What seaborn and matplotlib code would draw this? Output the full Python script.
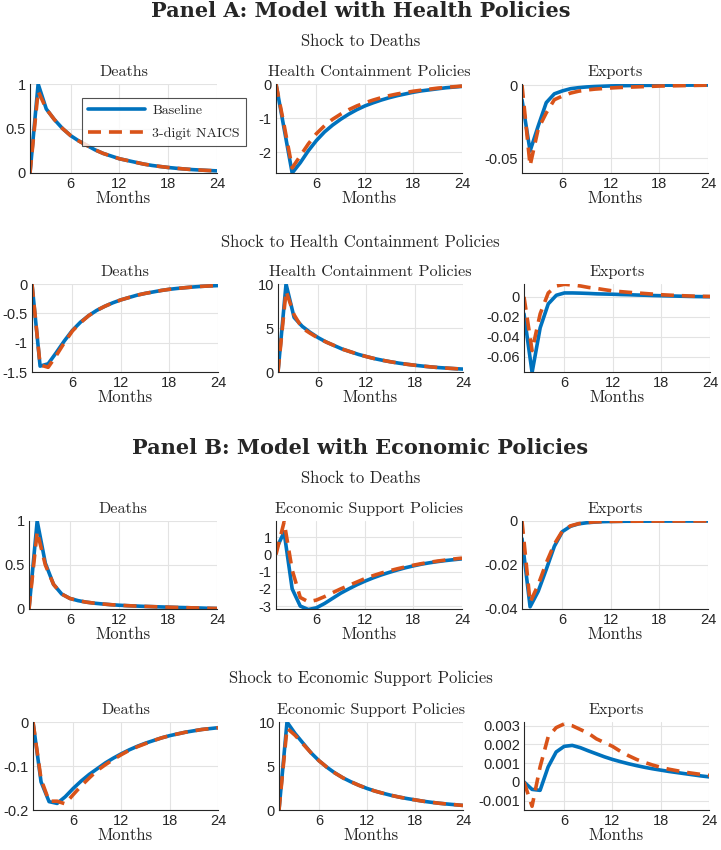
import matplotlib
matplotlib.use("Agg")
import matplotlib.pyplot as plt
import seaborn as sns

sns.set_style("white")
plt.rcParams["axes.unicode_minus"] = False

# Data: impulse responses, months 1..24
months = list(range(1, 25))

# Panel A, shock to deaths
a1_deaths_base = [0, 1.0, 0.72, 0.6, 0.5, 0.42, 0.36, 0.31, 0.26, 0.22, 0.19, 0.16,
                  0.14, 0.12, 0.10, 0.085, 0.073, 0.062, 0.053, 0.045, 0.038, 0.033, 0.028, 0.024]
a1_deaths_naics = [0, 0.92, 0.72, 0.6, 0.5, 0.42, 0.36, 0.31, 0.26, 0.22, 0.19, 0.16,
                   0.14, 0.12, 0.10, 0.085, 0.073, 0.062, 0.053, 0.045, 0.038, 0.033, 0.028, 0.024]
a1_health_base = [0, -1.3, -2.6, -2.3, -1.95, -1.65, -1.4, -1.2, -1.03, -0.88, -0.75, -0.64,
                  -0.55, -0.47, -0.4, -0.34, -0.29, -0.24, -0.2, -0.17, -0.14, -0.11, -0.09, -0.07]
a1_health_naics = [0, -1.2, -2.45, -2.1, -1.75, -1.45, -1.22, -1.03, -0.88, -0.75, -0.64, -0.55,
                   -0.47, -0.4, -0.34, -0.29, -0.25, -0.21, -0.18, -0.15, -0.12, -0.1, -0.08, -0.06]
a1_exports_base = [-0.01, -0.045, -0.028, -0.012, -0.006, -0.004, -0.0025, -0.0018, -0.0013, -0.001,
                   -0.0008, -0.0006, -0.0005, -0.0004, -0.0003, -0.00025, -0.0002, -0.00015,
                   -0.0001, -0.0001, -0.00008, -0.00006, -0.00005, -0.00004]
a1_exports_naics = [0, -0.055, -0.03, -0.019, -0.01, -0.0075, -0.0055, -0.0042, -0.0034, -0.0028,
                    -0.0024, -0.002, -0.0017, -0.0015, -0.0013, -0.0011, -0.0009, -0.0007,
                    -0.0006, -0.0005, -0.0004, -0.0003, -0.0002, -0.0001]

# Panel A, shock to health containment policies
a2_deaths_base = [0, -1.4, -1.36, -1.17, -0.97, -0.79, -0.65, -0.54, -0.45, -0.38, -0.32, -0.27,
                  -0.23, -0.19, -0.16, -0.135, -0.11, -0.09, -0.075, -0.062, -0.05, -0.04, -0.033, -0.027]
a2_deaths_naics = [0, -1.38, -1.42, -1.22, -1.0, -0.8, -0.66, -0.54, -0.45, -0.38, -0.32, -0.27,
                   -0.23, -0.19, -0.16, -0.135, -0.11, -0.09, -0.075, -0.062, -0.05, -0.04, -0.033, -0.027]
a2_health_base = [0, 10, 6.2, 5.2, 4.5, 3.9, 3.4, 3.0, 2.6, 2.3, 2.0, 1.75,
                  1.52, 1.33, 1.16, 1.01, 0.88, 0.77, 0.67, 0.58, 0.5, 0.44, 0.38, 0.33]
a2_health_naics = [0, 9.2, 6.5, 5.0, 4.4, 3.85, 3.4, 3.0, 2.6, 2.3, 2.0, 1.75,
                   1.52, 1.33, 1.16, 1.01, 0.88, 0.77, 0.67, 0.58, 0.5, 0.44, 0.38, 0.33]
a2_exports_base = [-0.017, -0.076, -0.031, -0.007, 0.0017, 0.004, 0.004, 0.0038, 0.0035, 0.0031,
                   0.0029, 0.0027, 0.0024, 0.0022, 0.0019, 0.0017, 0.0014, 0.0012,
                   0.001, 0.0008, 0.0006, 0.0004, 0.0003, 0.0002]
a2_exports_naics = [0, -0.054, -0.017, 0.004, 0.011, 0.0127, 0.012, 0.011, 0.0095, 0.0085,
                    0.0072, 0.006, 0.0053, 0.0046, 0.004, 0.0034, 0.0028, 0.0022,
                    0.0018, 0.0014, 0.0011, 0.0008, 0.0006, 0.0005]

# Panel B, shock to deaths
b1_deaths_base = [0, 1.0, 0.52, 0.28, 0.17, 0.12, 0.095, 0.078, 0.066, 0.057, 0.049, 0.043,
                  0.038, 0.034, 0.03, 0.027, 0.024, 0.021, 0.018, 0.016, 0.013, 0.011, 0.008, 0.006]
b1_deaths_naics = [0, 0.88, 0.5, 0.28, 0.17, 0.12, 0.095, 0.078, 0.066, 0.057, 0.049, 0.043,
                   0.038, 0.034, 0.03, 0.027, 0.024, 0.021, 0.018, 0.016, 0.013, 0.011, 0.008, 0.006]
b1_econ_base = [0.3, 1.3, -2.0, -3.0, -3.2, -3.1, -2.85, -2.55, -2.25, -2.0, -1.76, -1.55,
                -1.36, -1.19, -1.04, -0.9, -0.77, -0.66, -0.56, -0.48, -0.41, -0.35, -0.3, -0.25]
b1_econ_naics = [0, 1.9, -0.9, -2.5, -2.75, -2.65, -2.45, -2.22, -2.0, -1.8, -1.6, -1.4,
                 -1.23, -1.08, -0.95, -0.83, -0.72, -0.62, -0.53, -0.45, -0.38, -0.32, -0.26, -0.21]
b1_exports_base = [-0.008, -0.039, -0.032, -0.022, -0.0115, -0.0048, -0.0024, -0.0013, -0.0008,
                   -0.0005, -0.0003, -0.0002, -0.00015, -0.0001, -0.0001, -0.00008, -0.00006,
                   -0.00005, -0.00004, -0.00003, -0.00002, -0.00002, -0.00001, -0.00001]
b1_exports_naics = [0, -0.037, -0.029, -0.019, -0.0105, -0.0045, -0.0022, -0.0012, -0.0007,
                    -0.0004, -0.0003, -0.0002, -0.00015, -0.0001, -0.0001, -0.00008, -0.00006,
                    -0.00005, -0.00004, -0.00003, -0.00002, -0.00002, -0.00001, -0.00001]

# Panel B, shock to economic support policies
b2_deaths_base = [0, -0.136, -0.181, -0.185, -0.17, -0.151, -0.134, -0.119, -0.106, -0.093, -0.082, -0.072,
                  -0.063, -0.055, -0.048, -0.042, -0.036, -0.031, -0.027, -0.023, -0.02, -0.017, -0.015, -0.013]
b2_deaths_naics = [0, -0.13, -0.18, -0.18, -0.186, -0.165, -0.145, -0.127, -0.11, -0.097, -0.085, -0.074,
                   -0.064, -0.056, -0.049, -0.042, -0.036, -0.031, -0.027, -0.023, -0.02, -0.017, -0.015, -0.013]
b2_econ_base = [0, 10, 8.7, 7.6, 6.5, 5.6, 4.85, 4.2, 3.65, 3.2, 2.8, 2.45,
                2.15, 1.9, 1.67, 1.47, 1.3, 1.15, 1.0, 0.88, 0.77, 0.68, 0.6, 0.52]
b2_econ_naics = [0, 9.3, 8.5, 7.5, 6.5, 5.6, 4.85, 4.2, 3.65, 3.2, 2.8, 2.45,
                 2.15, 1.9, 1.67, 1.47, 1.3, 1.15, 1.0, 0.88, 0.77, 0.68, 0.6, 0.52]
b2_exports_base = [0.0, -0.0004, -0.00045, 0.0008, 0.0016, 0.0019, 0.00195, 0.00183, 0.00166, 0.0015,
                   0.00134, 0.0012, 0.00108, 0.00097, 0.00087, 0.00078, 0.0007, 0.00063,
                   0.00056, 0.0005, 0.00044, 0.00038, 0.00032, 0.00027]
b2_exports_naics = [0, -0.0013, 0.0008, 0.0024, 0.0029, 0.0031, 0.003, 0.0028, 0.0026, 0.0023,
                    0.0021, 0.0019, 0.00163, 0.0014, 0.0012, 0.00104, 0.0009, 0.00078,
                    0.00068, 0.0006, 0.00052, 0.00046, 0.0004, 0.00035]

series_names = ["Baseline", "3-digit NAICS"]
row_titles = ["Deaths", "Health Containment Policies", "Exports"]
row_titles_b = ["Deaths", "Economic Support Policies", "Exports"]

BLUE = "#0072BD"
ORANGE = "#D95319"
W, H = 721, 850

fig = plt.figure(figsize=(7.21, 8.5), dpi=100)

serif = "cmr10"
serif_bold = "DejaVu Serif"
tick_font = "Liberation Sans"


def make_ax(left, top, right, bottom):
    return fig.add_axes([left / W, 1 - bottom / H, (right - left) / W, (bottom - top) / H])


def draw(ax, base, naics, title, ylim, yticks, yticklabels):
    sns.lineplot(x=months, y=base, ax=ax, color=BLUE, linewidth=2.6, label=series_names[0], legend=False)
    sns.lineplot(x=months, y=naics, ax=ax, color=ORANGE, linewidth=2.6, label=series_names[1], legend=False)
    ax.lines[-1].set_dashes([3.6, 2.2])
    ax.set_xlim(1, 24)
    ax.set_ylim(*ylim)
    ax.set_xticks([6, 12, 18, 24])
    ax.set_yticks(yticks)
    ax.set_yticklabels(yticklabels)
    ax.grid(True, color="#e3e3e3", linewidth=0.8)
    for s in ["top", "right"]:
        ax.spines[s].set_visible(False)
    for s in ["left", "bottom"]:
        ax.spines[s].set_color("#262626")
        ax.spines[s].set_linewidth(0.8)
    ax.tick_params(direction="in", length=3, width=0.6, colors="#262626", labelsize=10.5, pad=3)
    for lab in ax.get_xticklabels() + ax.get_yticklabels():
        lab.set_family(tick_font)
    ax.set_title(title, family=serif, fontsize=11.6, pad=5.5)
    ax.set_xlabel("Months", family=serif, fontsize=12, labelpad=0)
    ax.set_ylabel("")


rows = [
    (84, 173, [(30, 217), (276, 462), (522, 708)]),
    (284, 372, [(32, 218), (278, 463), (524, 710)]),
    (521, 609, [(29, 217), (276, 462), (522, 708)]),
    (722, 810, [(33, 218), (279, 463), (524, 709)]),
]

specs = [
    [(a1_deaths_base, a1_deaths_naics, (0, 1.0), [0, 0.5, 1], ["0", "0.5", "1"]),
     (a1_health_base, a1_health_naics, (-2.6, 0), [-2, -1, 0], ["-2", "-1", "0"]),
     (a1_exports_base, a1_exports_naics, (-0.06, 0.0007), [-0.05, 0], ["-0.05", "0"])],
    [(a2_deaths_base, a2_deaths_naics, (-1.5, 0), [-1.5, -1, -0.5, 0], ["-1.5", "-1", "-0.5", "0"]),
     (a2_health_base, a2_health_naics, (0, 10), [0, 5, 10], ["0", "5", "10"]),
     (a2_exports_base, a2_exports_naics, (-0.0755, 0.013), [-0.06, -0.04, -0.02, 0],
      ["-0.06", "-0.04", "-0.02", "0"])],
    [(b1_deaths_base, b1_deaths_naics, (0, 1.0), [0, 0.5, 1], ["0", "0.5", "1"]),
     (b1_econ_base, b1_econ_naics, (-3.17, 1.95), [-3, -2, -1, 0, 1], ["-3", "-2", "-1", "0", "1"]),
     (b1_exports_base, b1_exports_naics, (-0.04, 0), [-0.04, -0.02, 0], ["-0.04", "-0.02", "0"])],
    [(b2_deaths_base, b2_deaths_naics, (-0.2, 0), [-0.2, -0.1, 0], ["-0.2", "-0.1", "0"]),
     (b2_econ_base, b2_econ_naics, (0, 10), [0, 5, 10], ["0", "5", "10"]),
     (b2_exports_base, b2_exports_naics, (-0.0015, 0.0032), [-0.001, 0, 0.001, 0.002, 0.003],
      ["-0.001", "0", "0.001", "0.002", "0.003"])],
]

axes = []
for r, (top, bottom, cols) in enumerate(rows):
    titles = row_titles if r < 2 else row_titles_b
    for c, (left, right) in enumerate(cols):
        ax = make_ax(left, top, right, bottom)
        base, naics, ylim, yt, ytl = specs[r][c]
        draw(ax, base, naics, titles[c], ylim, yt, ytl)
        axes.append(ax)

# legend in first panel
leg = axes[0].legend(loc="upper left", bbox_to_anchor=(82 / W, 1 - 98 / H),
                     bbox_transform=fig.transFigure, borderaxespad=0,
                     prop={"family": serif, "size": 10}, frameon=True, fancybox=False,
                     edgecolor="#262626", handlelength=4.1, handletextpad=0.5,
                     borderpad=0.45, labelspacing=0.75)
leg.get_frame().set_linewidth(0.8)

# headings
fig.text(0.5, 1 - 11 / H, "Panel A: Model with Health Policies", family=serif_bold,
         weight="bold", fontsize=15, ha="center", va="center")
fig.text(0.5, 1 - 41 / H, "Shock to Deaths", family=serif, fontsize=12, ha="center", va="center")
fig.text(0.5, 1 - 242 / H, "Shock to Health Containment Policies", family=serif, fontsize=12,
         ha="center", va="center")
fig.text(0.5, 1 - 448 / H, "Panel B: Model with Economic Policies", family=serif_bold,
         weight="bold", fontsize=15, ha="center", va="center")
fig.text(0.5, 1 - 478 / H, "Shock to Deaths", family=serif, fontsize=12, ha="center", va="center")
fig.text(0.5, 1 - 678 / H, "Shock to Economic Support Policies", family=serif, fontsize=12,
         ha="center", va="center")

fig.savefig("out.png", dpi=100)
